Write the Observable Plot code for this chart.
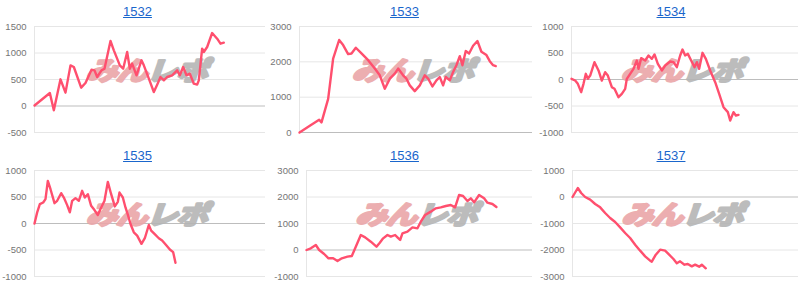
<!DOCTYPE html>
<html><head><meta charset="utf-8">
<script src="https://cdn.jsdelivr.net/npm/d3@7"></script>
<script src="https://cdn.jsdelivr.net/npm/@observablehq/plot@0.6"></script>
<style>
body{margin:0;background:#fff;font-family:"Liberation Sans",Arial,sans-serif;}
#grid{display:flex;flex-wrap:wrap;width:800px;}
.panel{height:144px;overflow:hidden;}
.title{height:20px;line-height:20px;padding-top:2px;padding-left:8px;box-sizing:border-box;text-align:center;font-size:13px;}
.title a{color:#1a66cc;text-decoration:underline;}
svg{display:block;}
</style></head><body><div id="grid"></div>
<script>
// machine numbers (panel titles)
const machines = ["1532", "1533", "1534", "1535", "1536", "1537"];

// cumulative balance series: [games, balance]
const s1532 = [[0,10],[465,245],[586,-82],[788,503],[939,252],[1091,767],[1192,736],[1414,346],[1545,434],[1727,686],[1818,673],[1899,547],[2030,673],[2121,704],[2303,1226],[2404,1050],[2586,767],[2687,704],[2808,1019],[2889,704],[2959,800],[3091,579],[3242,862],[3313,767],[3485,484],[3616,264],[3717,403],[3818,547],[3919,484],[4020,547],[4171,579],[4323,673],[4404,579],[4505,736],[4606,579],[4707,610],[4828,421],[4929,403],[4979,484],[5080,1082],[5131,1019],[5232,1113],[5383,1377],[5535,1270],[5636,1176],[5737,1195]];
const s1533 = [[0,0],[310,190],[591,362],[661,286],[861,952],[1011,2094],[1191,2618],[1311,2475],[1461,2218],[1562,2237],[1692,2399],[1862,2237],[2062,2047],[2262,1809],[2412,1618],[2563,1238],[2713,1523],[2863,1666],[2963,1809],[3113,1618],[3213,1523],[3313,1333],[3463,1171],[3614,1333],[3764,1618],[3864,1523],[3994,1304],[4114,1476],[4214,1571],[4314,1333],[4394,1571],[4515,1476],[4615,1714],[4715,1904],[4815,2161],[4895,1904],[4995,2304],[5095,2237],[5215,2456],[5345,2589],[5465,2285],[5616,2190],[5716,2018],[5816,1904],[5896,1880]];
const s1534 = [[0,13],[113,-19],[195,-82],[298,-239],[370,-82],[442,107],[504,13],[576,75],[709,327],[833,170],[935,-19],[1038,138],[1120,75],[1244,-145],[1326,-176],[1449,-333],[1552,-270],[1655,-176],[1706,13],[1809,107],[1912,201],[2015,358],[2066,201],[2149,403],[2272,359],[2375,453],[2477,390],[2560,472],[2663,296],[2786,170],[2889,264],[3043,340],[3146,327],[3248,233],[3351,453],[3423,566],[3505,453],[3588,484],[3690,359],[3793,233],[3865,327],[3937,201],[4040,503],[4143,390],[4276,170],[4431,-50],[4554,-270],[4688,-522],[4821,-616],[4893,-774],[4996,-616],[5068,-679],[5150,-667]];
const s1535 = [[0,0],[81,210],[162,365],[263,397],[333,460],[404,803],[485,647],[606,384],[687,428],[808,572],[889,490],[990,347],[1071,210],[1141,428],[1242,478],[1343,428],[1444,616],[1525,490],[1616,553],[1717,334],[1818,253],[1919,160],[2000,272],[2121,428],[2222,785],[2323,553],[2434,322],[2525,409],[2576,584],[2677,490],[2757,303],[2838,147],[2909,-9],[3010,-166],[3111,-228],[3242,-384],[3343,-278],[3464,-28],[3535,-134],[3636,-197],[3767,-278],[3868,-322],[4000,-416],[4101,-491],[4202,-541],[4272,-740]];
const s1536 = [[0,0],[134,63],[289,189],[392,0],[547,-151],[681,-314],[826,-314],[960,-415],[1094,-314],[1269,-252],[1404,-226],[1527,126],[1682,566],[1816,478],[1992,314],[2167,126],[2270,277],[2374,440],[2508,566],[2611,503],[2745,566],[2817,478],[2900,377],[2972,629],[3127,692],[3282,855],[3437,818],[3540,1069],[3674,1321],[3849,1447],[4004,1573],[4159,1610],[4314,1661],[4469,1698],[4603,1610],[4727,2076],[4850,2038],[4985,1849],[5088,1950],[5191,1799],[5346,2076],[5501,1950],[5604,1786],[5759,1736],[5882,1620]];
const s1537 = [[0,0],[165,340],[268,151],[392,0],[547,-101],[702,-264],[857,-390],[1011,-604],[1166,-793],[1321,-944],[1476,-1145],[1631,-1359],[1785,-1547],[1940,-1799],[2095,-2025],[2250,-2239],[2405,-2403],[2456,-2440],[2580,-2176],[2714,-1988],[2869,-2025],[2993,-2176],[3127,-2340],[3230,-2503],[3333,-2428],[3468,-2554],[3571,-2529],[3695,-2617],[3798,-2554],[3922,-2629],[4004,-2554],[4128,-2690]];

// y axis ranges and tick labels per machine
const yDomains = [[-500,1500],[0,3000],[-1000,1000],[-1000,1000],[-1000,3000],[-3000,1000]];
const yTicks = [
  [-500,0,500,1000,1500],
  [0,1000,2000,3000],
  [-1000,-500,0,500,1000],
  [-1000,-500,0,500,1000],
  [-1000,0,1000,2000,3000],
  [-3000,-2000,-1000,0,1000]
];
const gameDomain = [0, 7000];

const series = [s1532, s1533, s1534, s1535, s1536, s1537];
const panelWidths = [267, 267, 266];
const marginLefts = [34, 32, 37, 34, 39, 38];

const grid = document.getElementById("grid");
machines.forEach((m, i) => {
  const w = panelWidths[i % 3];
  const panel = document.createElement("div");
  panel.className = "panel";
  panel.style.width = w + "px";
  const t = document.createElement("div");
  t.className = "title";
  const a = document.createElement("a");
  a.textContent = m;
  t.appendChild(a);
  panel.appendChild(t);

  const ticks = yTicks[i];
  const plot = Plot.plot({
    width: w,
    height: 124,
    marginTop: 6,
    marginBottom: 12,
    marginLeft: marginLefts[i],
    marginRight: 2,
    style: {fontSize: "9.5px", fontFamily: '"Liberation Sans", Arial, sans-serif', color: "#757575", background: "transparent", overflow: "visible"},
    x: {domain: gameDomain, axis: null},
    y: {domain: yDomains[i], ticks: ticks, tickSize: 0, tickPadding: 8, tickFormat: d => String(d), label: null},
    marks: [
      Plot.ruleY(ticks.filter(v => v !== 0), {stroke: "#e6e6e6", strokeWidth: 1}),
      Plot.ruleX([gameDomain[0]], {stroke: "#e6e6e6", strokeWidth: 1}),
      Plot.ruleY([0], {stroke: "#bdbdbd", strokeWidth: 1}),
      Plot.line(series[i], {x: d => d[0], y: d => d[1], stroke: "#ff4f6e", strokeWidth: 2.4, strokeLinejoin: "round", strokeLinecap: "round"})
    ]
  });
  panel.appendChild(plot);
  grid.appendChild(panel);

  // watermark logo behind the line
  const svg = plot.tagName.toLowerCase() === "svg" ? plot : plot.querySelector("svg");
  const xr = plot.scale("x").range, yr = plot.scale("y").range;
  const cx = (xr[0] + xr[1]) / 2, cy = (yr[0] + yr[1]) / 2 - 8;
  const ns = "http://www.w3.org/2000/svg";
  const g = document.createElementNS(ns, "g");
  g.setAttribute("transform", `translate(${cx},${cy}) scale(1.12,0.92) skewX(-16)`);
  g.setAttribute("opacity", "0.9");
  const txt = document.createElementNS(ns, "text");
  txt.setAttribute("text-anchor", "middle");
  txt.setAttribute("dy", "0.36em");
  txt.setAttribute("font-size", "28");
  txt.setAttribute("font-weight", "700");
  txt.setAttribute("letter-spacing", "-1");
  txt.setAttribute("stroke-width", "3");
  txt.setAttribute("stroke-linejoin", "round");
  txt.setAttribute("font-family", '"Noto Sans CJK JP", sans-serif');
  const t1 = document.createElementNS(ns, "tspan");
  t1.setAttribute("fill", "#eaa6a8");
  t1.setAttribute("stroke", "#eaa6a8");
  t1.textContent = "みん";
  const t2 = document.createElementNS(ns, "tspan");
  t2.setAttribute("fill", "#b5b5b5");
  t2.setAttribute("stroke", "#b5b5b5");
  t2.textContent = "レポ";
  txt.appendChild(t1); txt.appendChild(t2);
  g.appendChild(txt);
  const lineG = svg.querySelector('[aria-label="line"]');
  if (lineG) svg.insertBefore(g, lineG); else svg.appendChild(g);
});
</script></body></html>
